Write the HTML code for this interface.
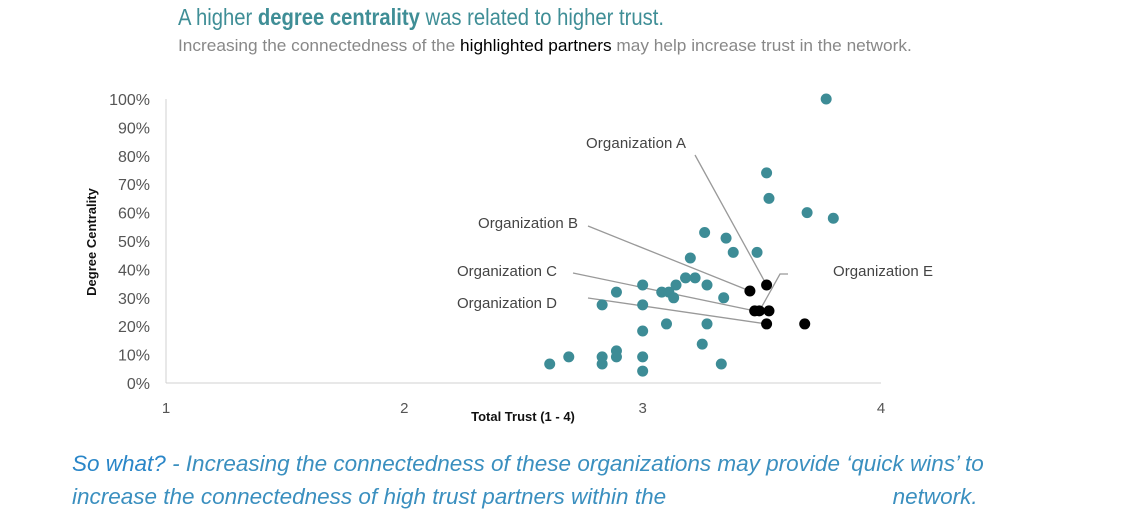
<!DOCTYPE html>
<html><head><meta charset="utf-8"><style>
body{margin:0;width:1142px;height:527px;background:#fff;overflow:hidden;font-family:"Liberation Sans",sans-serif;position:relative}
.t{position:absolute;white-space:nowrap;transform-origin:0 0}
#title{left:178px;top:4px;font-size:23px;color:#3f8e96;transform:scaleX(0.88)}
#sub{left:178px;top:36px;font-size:17px;color:#888;transform:scaleX(1.015)}
.so{left:72px;font-style:italic;font-size:22.5px;color:#3a8fbf}
</style></head><body>
<div class="t" id="title">A higher <b>degree centrality</b> was related to higher trust.</div>
<div class="t" id="sub">Increasing the connectedness of the <span style="color:#000">highlighted partners</span> may help increase trust in the network.</div>
<svg id="chart" width="1142" height="527" style="position:absolute;left:0;top:0"></svg>
<div class="t so" style="top:451px"><span style="color:#2a86c8">So what?</span> - Increasing the connectedness of these organizations may provide ‘quick wins’ to</div>
<div class="t so" style="top:484px">increase the connectedness of high trust partners within the <span style="display:inline-block;width:214px"></span> network.</div>
<script>
const teamX=[2.61,2.69,2.83,2.83,2.89,2.89,3.0,3.0,3.0,3.0,3.0,2.83,2.89,3.10,3.08,3.11,3.13,3.14,3.18,3.22,3.20,3.27,3.34,3.27,3.25,3.33,3.26,3.35,3.38,3.48,3.52,3.53,3.69,3.80,3.77];
const teamY=[6.7,9.2,9.2,6.7,11.3,9.2,9.2,4.2,18.3,27.5,34.5,27.5,32,20.8,32,32,30,34.5,37,37,44,34.5,30,20.8,13.7,6.7,53,51,46,46,74,65,60,58,100];
const hiX=[3.45,3.52,3.47,3.49,3.53,3.52,3.68];
const hiY=[32.4,34.5,25.4,25.4,25.4,20.8,20.8];
const yTicks=[0,10,20,30,40,50,60,70,80,90,100];
const xTicks=[1,2,3,4];
const labels=[["Organization A",586,148,695,155,1],["Organization B",478,228,588,226,0],["Organization C",457,276,573,273,2],["Organization D",457,308,588,298,5]];
const NS="http://www.w3.org/2000/svg",svg=document.getElementById('chart');
const sx=v=>166+(v-1)*238.33, sy=v=>383-v*2.84;
function mk(tag,a,txt){const e=document.createElementNS(NS,tag);for(const k in a)e.setAttribute(k,a[k]);if(txt!=null)e.textContent=txt;svg.appendChild(e);return e;}
let e;
e=mk('line',{x1:166,y1:99,x2:166,y2:383,stroke:'#d0d0d0'});


e=mk('line',{x1:166,y1:383,x2:881,y2:383,stroke:'#d0d0d0'});


yTicks.forEach(v=>{e=mk('text',{x:150,y:sy(v)+6,'text-anchor':'end','font-size':16,fill:'#555'},v+'%');

});
xTicks.forEach(v=>{e=mk('text',{x:sx(v),y:413,'text-anchor':'middle','font-size':15,fill:'#555'},v);

});
e=mk('text',{x:523,y:421,'text-anchor':'middle','font-size':13,'font-weight':'bold',fill:'#111'},'Total Trust (1 - 4)');


e=mk('text',{x:0,y:0,'text-anchor':'middle','font-size':13,'font-weight':'bold',fill:'#111',transform:'translate(96,242) rotate(-90)'},'Degree Centrality');


labels.forEach(l=>{e=mk('text',{x:l[1],y:l[2],'font-size':15,fill:'#444',textLength:100},l[0]);


e=mk('line',{x1:l[3],y1:l[4],x2:sx(hiX[l[5]]),y2:sy(hiY[l[5]]),stroke:'#999','stroke-width':1.3});

});
e=mk('text',{x:833,y:276,'font-size':15,fill:'#444',textLength:100},'Organization E');


e=mk('polyline',{points:`788,274 780,274 ${sx(hiX[3])},${sy(hiY[3])}`,fill:'none',stroke:'#999','stroke-width':1.3});


teamX.forEach((x,i)=>{e=mk('circle',{cx:sx(x),cy:sy(teamY[i]),r:5.5,fill:'#3d8c96'});

});
hiX.forEach((x,i)=>{e=mk('circle',{cx:sx(x),cy:sy(hiY[i]),r:5.5,fill:'#000'});

});
</script>
</body></html>
